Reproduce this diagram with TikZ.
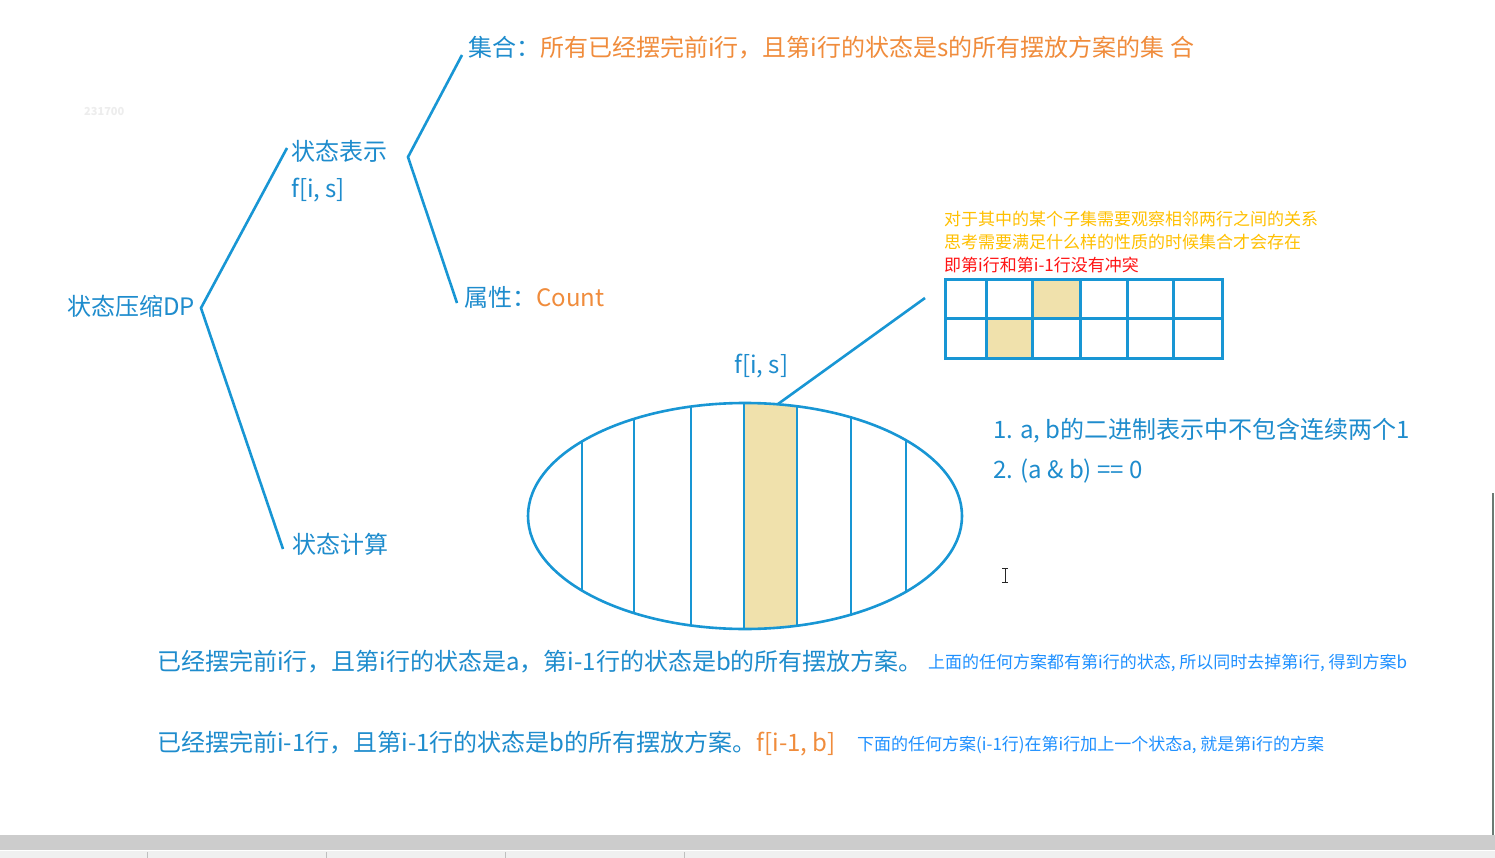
\documentclass[tikz,border=0pt]{standalone}
\usepackage{fontspec}
\setmainfont{Noto Sans CJK SC}
\definecolor{lineblue}{RGB}{24,150,212}
\definecolor{textblue}{RGB}{30,140,205}
\definecolor{orng}{RGB}{240,140,60}
\definecolor{yel}{RGB}{255,192,0}
\definecolor{redc}{RGB}{255,20,20}
\definecolor{beige}{RGB}{240,225,172}
\definecolor{smallblue}{RGB}{30,144,255}
\tikzset{
  big/.style={anchor=west,inner sep=0pt,text=textblue,font=\fontsize{24}{28}\selectfont},
  small/.style={anchor=west,inner sep=0pt,font=\fontsize{17}{20}\selectfont},
  bline/.style={draw=lineblue,line width=2.6pt},
  gline/.style={draw=lineblue,line width=3pt},
}
\begin{document}
\begin{tikzpicture}[x=1pt,y=-1pt]
\useasboundingbox (0,0) rectangle (1495,858);
\fill[white] (0,0) rectangle (1495,858);
% faint watermark
\node[anchor=west,inner sep=0pt,text=black!7,font=\fontsize{11}{13}\selectfont\bfseries] (wm) at (84,112) {231700};
% tree
\coordinate (t1a) at (287,148);
\coordinate (t1v) at (201,308);
\coordinate (t1b) at (283,549);
\coordinate (t2a) at (462,55);
\coordinate (t2v) at (408,157);
\coordinate (t2b) at (457,303);
\draw[bline] (t1a) -- (t1v) -- (t1b);
\draw[bline] (t2a) -- (t2v) -- (t2b);
\node[big] (root) at (67,306) {状态压缩DP};
\node[big] (rep) at (291,151) {状态表示};
\node[big] (fis) at (291,190) {f[i, s]};
\node[big] (calc) at (292,544) {状态计算};
\node[big] (set) at (468,48) {集合：\textcolor{orng}{所有已经摆完前i行，且第i行的状态是s的所有摆放方案的集 合}};
\node[big] (attr) at (464,297) {属性：\textcolor{orng}{Count}};
% small notes
\node[small,text=yel] (n1) at (944,219) {对于其中的某个子集需要观察相邻两行之间的关系};
\node[small,text=yel] (n2) at (944,242) {思考需要满足什么样的性质的时候集合才会存在};
\node[small,text=redc] (n3) at (944,265) {即第i行和第i-1行没有冲突};
% grid
\fill[beige] (1032,280) rectangle (1080,318);
\fill[beige] (986,318) rectangle (1032,358);
\draw[gline] (945,280) rectangle (1222,358);
\draw[gline] (945,318) -- (1222,318);
\foreach \x in {986,1032,1080,1127,1173} \draw[gline] (\x,280) -- (\x,358);
\coordinate (gl) at (925,298);
\coordinate (et) at (778,404);
\draw[bline] (gl) -- (et);
% ellipse
\node[big] (fis2) at (734,366) {f[i, s]};
\begin{scope}
\clip (745,516) ellipse [x radius=217, y radius=113];
\fill[beige] (744,390) rectangle (797,640);
\foreach \x in {582,634,691,744,797,851,906} \draw[bline] (\x,390) -- (\x,640);
\end{scope}
\draw[bline] (745,516) ellipse [x radius=217, y radius=113];
% conditions
\node[big] (c1) at (993,431) {1. a, b的二进制表示中不包含连续两个1};
\node[big] (c2) at (993,471) {2. (a \& b) == 0};
% bottom texts
\node[big] (b1) at (157,662) {已经摆完前i行，且第i行的状态是a，第i-1行的状态是b的所有摆放方案。};
\node[small,text=smallblue] (s1) at (928,663) {上面的任何方案都有第i行的状态, 所以同时去掉第i行, 得到方案b};
\node[big] (b2) at (157,744) {已经摆完前i-1行，且第i-1行的状态是b的所有摆放方案。\textcolor{orng}{f[i-1, b]}};
\node[small,text=smallblue] (s2) at (857,745) {下面的任何方案(i-1行)在第i行加上一个状态a, 就是第i行的方案};
% cursor
\draw[black!85,line width=1pt] (1005,568) -- (1005,582);
\draw[black!85,line width=1pt] (1002,568) -- (1008,568);
\draw[black!85,line width=1pt] (1002,582) -- (1008,582);
% window chrome
\fill[black!20] (0,835) rectangle (1495,850);
\fill[black!6] (0,851) rectangle (1495,858);
\foreach \x in {147,326,505,684} \draw[black!25,line width=0.8pt] (\x,852) -- (\x,858);
\draw[color={rgb,255:red,107;green,123;blue,115},line width=2pt] (1493,493) -- (1493,835);
\end{tikzpicture}
\end{document}
